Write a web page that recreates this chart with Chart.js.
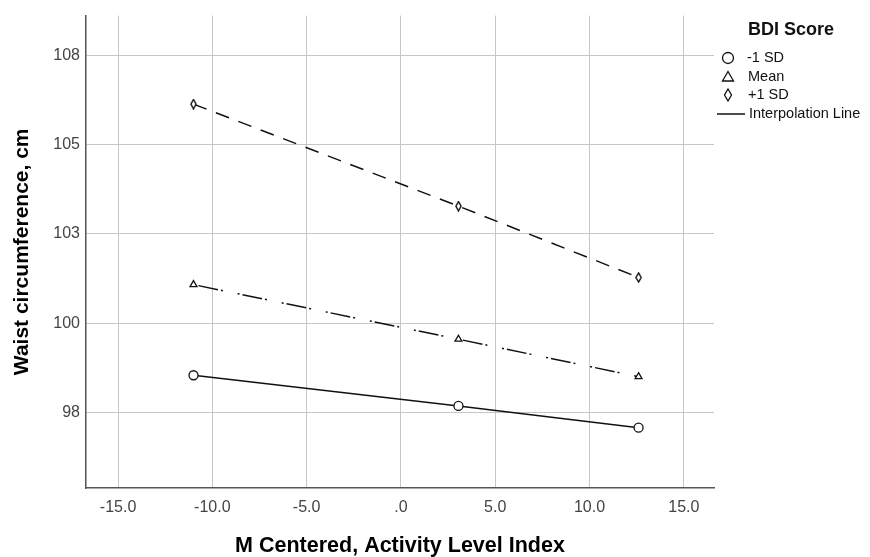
<!DOCTYPE html>
<html><head><meta charset="utf-8">
<script src="https://cdn.jsdelivr.net/npm/chart.js@4"></script>
<style>html,body{margin:0;padding:0;background:#fff}#wrap{width:870px;height:557px}</style>
</head><body><div id="wrap"><canvas id="c" width="870" height="557"></canvas></div>
<script>
// ---- data ----
const activityLevels = [-11.0, 3.05, 12.6];
const bdiLow = [98.54, 97.68, 97.07];
const bdiMean = [101.08, 99.55, 98.50];
const bdiHigh = [106.14, 103.28, 101.28];
const seriesNames = ['-1 SD', 'Mean', '+1 SD'];
const xTickValues = [-15, -10, -5, 0, 5, 10, 15];
const xTickLabels = ['-15.0', '-10.0', '-5.0', '.0', '5.0', '10.0', '15.0'];
const yTickValues = [97.5, 100, 102.5, 105, 107.5];
const yTickLabels = ['98', '100', '103', '105', '108'];
const legendTitle = 'BDI Score';
const interpolationLabel = 'Interpolation Line';
const xTitle = 'M Centered, Activity Level Index';
const yTitle = 'Waist circumference, cm';

const FONT = "'Liberation Sans', Arial, sans-serif";

function makeDiamond(w, h, lw) {
  const c = document.createElement('canvas');
  c.width = w; c.height = h;
  const g = c.getContext('2d');
  g.beginPath();
  g.moveTo(w / 2, lw / 2 + 0.2);
  g.lineTo(w - lw / 2 - 0.2, h / 2);
  g.lineTo(w / 2, h - lw / 2 - 0.2);
  g.lineTo(lw / 2 + 0.2, h / 2);
  g.closePath();
  g.fillStyle = '#fff'; g.fill();
  g.strokeStyle = '#111'; g.lineWidth = lw; g.stroke();
  return c;
}
const diamondPoint = makeDiamond(7, 11, 1.4);

function pts(ys) { return activityLevels.map((x, i) => ({ x: x, y: ys[i] })); }

const baseDs = {
  borderColor: '#111', borderWidth: 1.5, fill: false, tension: 0,
  pointBackgroundColor: '#fff', pointBorderColor: '#111', pointBorderWidth: 1.3
};

const legendPlugin = {
  id: 'spssLegend',
  afterDraw(chart) {
    const ctx = chart.ctx;
    ctx.save();
    ctx.fillStyle = '#111';
    ctx.textBaseline = 'middle';
    ctx.font = 'bold 18px ' + FONT;
    ctx.textAlign = 'center';
    ctx.fillText(legendTitle, 791, 30);
    ctx.font = '14.5px ' + FONT;
    ctx.textAlign = 'left';
    const mx = 728, tx = 747;
    const ys = [58, 77, 95, 114];
    ctx.strokeStyle = '#111';
    ctx.lineWidth = 1.3;
    ctx.beginPath(); ctx.arc(mx, ys[0], 5.5, 0, Math.PI * 2); ctx.stroke();
    ctx.beginPath();
    ctx.moveTo(mx, ys[1] - 5.5); ctx.lineTo(mx + 5.5, ys[1] + 4); ctx.lineTo(mx - 5.5, ys[1] + 4); ctx.closePath(); ctx.stroke();
    ctx.beginPath();
    ctx.moveTo(mx, ys[2] - 6); ctx.lineTo(mx + 3.5, ys[2]); ctx.lineTo(mx, ys[2] + 6); ctx.lineTo(mx - 3.5, ys[2]); ctx.closePath(); ctx.stroke();
    ctx.lineWidth = 1.5;
    ctx.beginPath(); ctx.moveTo(717, ys[3]); ctx.lineTo(745, ys[3]); ctx.stroke();
    ctx.fillText(seriesNames[0], tx, ys[0]);
    ctx.fillText(seriesNames[1], tx + 1, ys[1]);
    ctx.fillText(seriesNames[2], tx + 1, ys[2]);
    ctx.fillText(interpolationLabel, tx + 2, ys[3]);
    ctx.restore();
  }
};

new Chart(document.getElementById('c'), {
  type: 'line',
  data: {
    datasets: [
      Object.assign({}, baseDs, { label: seriesNames[0], data: pts(bdiLow), pointStyle: 'circle', pointRadius: 4.5 }),
      Object.assign({}, baseDs, { label: seriesNames[1], data: pts(bdiMean), pointStyle: 'triangle', pointRadius: 4, borderDash: [2, 3, 20, 3, 2, 15] }),
      Object.assign({}, baseDs, { label: seriesNames[2], data: pts(bdiHigh), pointStyle: diamondPoint, pointRadius: 5, borderDash: [14, 10] })
    ]
  },
  options: {
    responsive: false,
    animation: false,
    devicePixelRatio: 1,
    layout: { padding: { left: 0, top: 13, right: 156, bottom: 0 } },
    plugins: { legend: { display: false }, tooltip: { enabled: false } },
    scales: {
      x: {
        type: 'linear', min: -16.7, max: 16.6,
        afterBuildTicks: s => { s.ticks = xTickValues.map(v => ({ value: v })); },
        afterFit: s => { s.height = 69; },
        ticks: {
          autoSkip: false, maxRotation: 0, padding: 10, color: '#444',
          font: { family: FONT, size: 16 },
          callback: (v, i) => xTickLabels[i]
        },
        grid: { color: '#c6c6c6', lineWidth: 1, drawTicks: false },
        border: { color: '#555', width: 1.5 },
        title: { display: true, text: xTitle, color: '#000', padding: { top: 0, bottom: 0 },
          font: { family: FONT, size: 21.5, weight: 'bold', lineHeight: 1 } }
      },
      y: {
        type: 'linear', min: 95.38, max: 108.62,
        afterBuildTicks: s => { s.ticks = yTickValues.map(v => ({ value: v })); },
        afterFit: s => { s.width = 86; },
        ticks: {
          autoSkip: false, padding: 6, color: '#444',
          font: { family: FONT, size: 16 },
          callback: (v, i) => yTickLabels[i]
        },
        grid: { color: '#c6c6c6', lineWidth: 1, drawTicks: false },
        border: { color: '#555', width: 1.5 },
        title: { display: true, text: yTitle, color: '#000', padding: { top: 12, bottom: 0 },
          font: { family: FONT, size: 21, weight: 'bold', lineHeight: 1 } }
      }
    }
  },
  plugins: [legendPlugin]
});
</script>
</body></html>
